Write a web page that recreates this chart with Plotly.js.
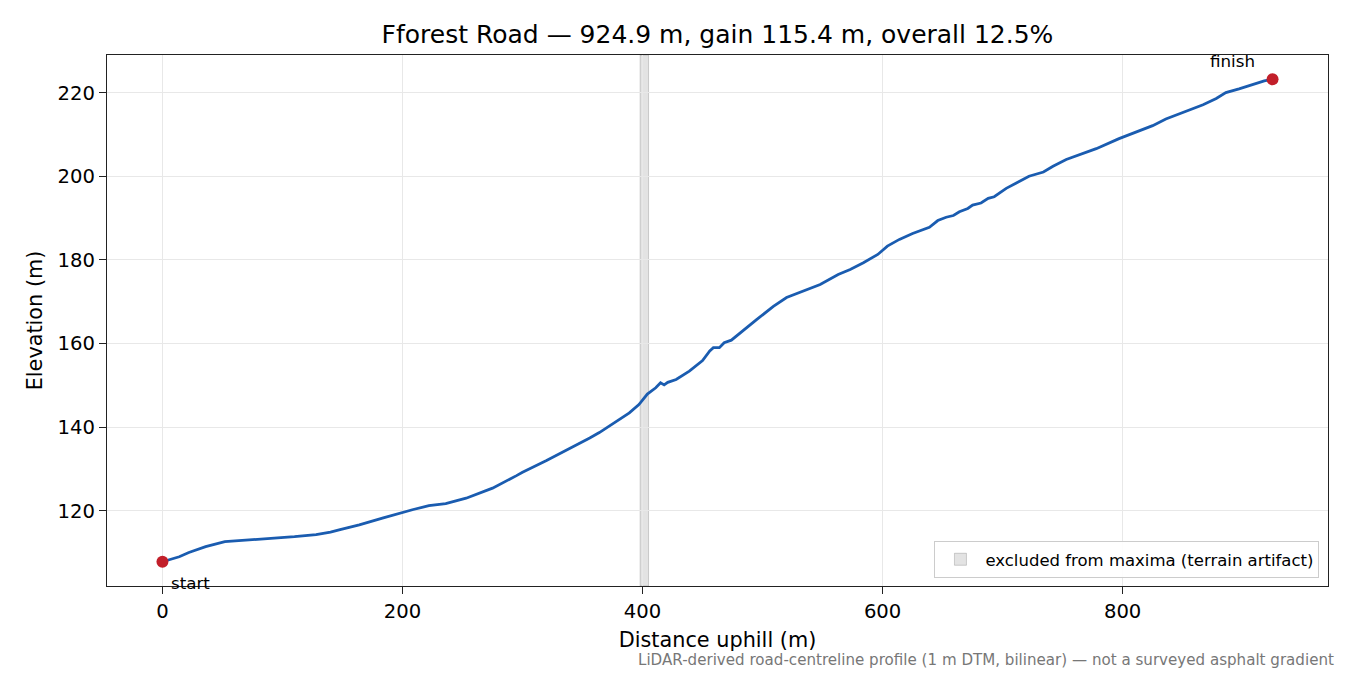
<!DOCTYPE html>
<html>
<head>
<meta charset="utf-8">
<script src="https://cdn.plot.ly/plotly-3.0.1.min.js"></script>
<style>
  html,body{margin:0;padding:0;background:#fff;}
  #chart{width:1350px;height:675px;}
</style>
</head>
<body>
<div id="chart"></div>
<script>
// Fforest Road – elevation profile

const DIST = [0,5,14,22,36,52,67,80,92,110,128,140,148,164,184,198,209,222,236,253,275,295,300,320,331,342,356,364,372,381,389,397,401,404,411,415,418,421,428,439,450,456,459,464,468,474,495,509,520,531,548,563,573,584,596,604,614,625,639,646,653,659,664,671,675,682,688,693,703,713,722,734,742,753,764,778,797,811,825,836,853,867,878,886,897,909,918,924.9];
const ELEV = [107.8,108.2,109.0,110.0,111.4,112.6,112.9,113.2,113.5,113.8,114.3,114.9,115.5,116.6,118.3,119.5,120.3,121.2,121.7,123.0,125.4,128.4,129.2,132.0,133.6,135.2,137.4,138.7,140.2,141.8,143.4,145.4,146.9,147.9,149.4,150.6,150.1,150.7,151.4,153.4,155.9,158.2,159.0,159.0,160.2,160.8,165.7,168.9,171.0,172.2,174.1,176.5,177.7,179.3,181.3,183.3,184.9,186.3,187.8,189.4,190.2,190.6,191.5,192.3,193.1,193.6,194.7,195.1,197.1,198.6,200.0,201.0,202.4,204.0,205.2,206.6,209.0,210.6,212.1,213.7,215.5,217.1,218.6,220.0,220.9,222.0,222.8,223.2];

const ENDS_X = [0, 924.9];
const ENDS_Y = [107.8, 223.2];
const EXCLUDED = [398, 405];

const FONT = 'DejaVu Sans, sans-serif';

const traces = [
  {x:DIST, y:ELEV, type:'scatter', mode:'lines', line:{color:'#1a5cb0', width:2.8},
   showlegend:false, hoverinfo:'x+y'},
  {x:ENDS_X, y:ENDS_Y, type:'scatter', mode:'markers', marker:{color:'#c21f2a', size:12},
   showlegend:false}
];

const layout = {
  width:1350, height:675,
  paper_bgcolor:'#fff', plot_bgcolor:'#fff',
  font:{family:FONT, size:20.8, color:'#000'},
  margin:{l:107, r:22, t:55, b:89},
  title:{text:'Fforest Road — 924.9 m, gain 115.4 m, overall 12.5%', font:{size:25, color:'#000'},
         xref:'paper', x:0.5, xanchor:'center', y:0.95, yanchor:'middle'},
  xaxis:{
    range:[-46.2, 971.1], tickvals:[0,200,400,600,800], ticks:'outside', ticklen:7, tickcolor:'#222',
    showgrid:true, gridcolor:'#e8e8e8', zeroline:false, automargin:false,
    showline:true, mirror:true, linecolor:'#222', linewidth:1.3,
    tickfont:{size:19.6}, title:{text:'Distance uphill (m)', font:{size:20.8}, standoff:10}
  },
  yaxis:{
    range:[102.0, 229.0], tickvals:[120,140,160,180,200,220], ticks:'outside', ticklen:7, tickcolor:'#222',
    showgrid:true, gridcolor:'#e8e8e8', zeroline:false, automargin:false,
    showline:true, mirror:true, linecolor:'#222', linewidth:1.3,
    tickfont:{size:19.6}, title:{text:'Elevation (m)', font:{size:20.8}, standoff:9}
  },
  shapes:[
    {type:'rect', xref:'x', yref:'paper', x0:EXCLUDED[0], x1:EXCLUDED[1], y0:0, y1:1,
     fillcolor:'rgba(128,128,128,0.22)', line:{color:'rgba(110,110,110,0.3)', width:1}, layer:'below',
     showlegend:true, name:'excluded from maxima (terrain artifact)'}
  ],
  legend:{x:0.993, y:0.015, xanchor:'right', yanchor:'bottom', bgcolor:'rgba(255,255,255,0.9)',
          bordercolor:'#cccccc', borderwidth:1, font:{size:16.5}, itemwidth:40},
  annotations:[
    {x:ENDS_X[0], y:ENDS_Y[0], xref:'x', yref:'y', text:'start', showarrow:false,
     xanchor:'left', yanchor:'top', xshift:7, yshift:-9, font:{size:16.7}},
    {x:ENDS_X[1], y:ENDS_Y[1], xref:'x', yref:'y', text:'finish', showarrow:false,
     xanchor:'center', yanchor:'bottom', xshift:-40, yshift:6, font:{size:16.7}},
    {x:1.0066, y:-0.139, xref:'paper', yref:'paper', text:'LiDAR-derived road-centreline profile (1 m DTM, bilinear) — not a surveyed asphalt gradient',
     showarrow:false, xanchor:'right', yanchor:'middle', font:{size:15.1, color:'#777'}}
  ]
};

Plotly.newPlot('chart', traces, layout, {displayModeBar:false, responsive:false});
</script>
</body>
</html>
